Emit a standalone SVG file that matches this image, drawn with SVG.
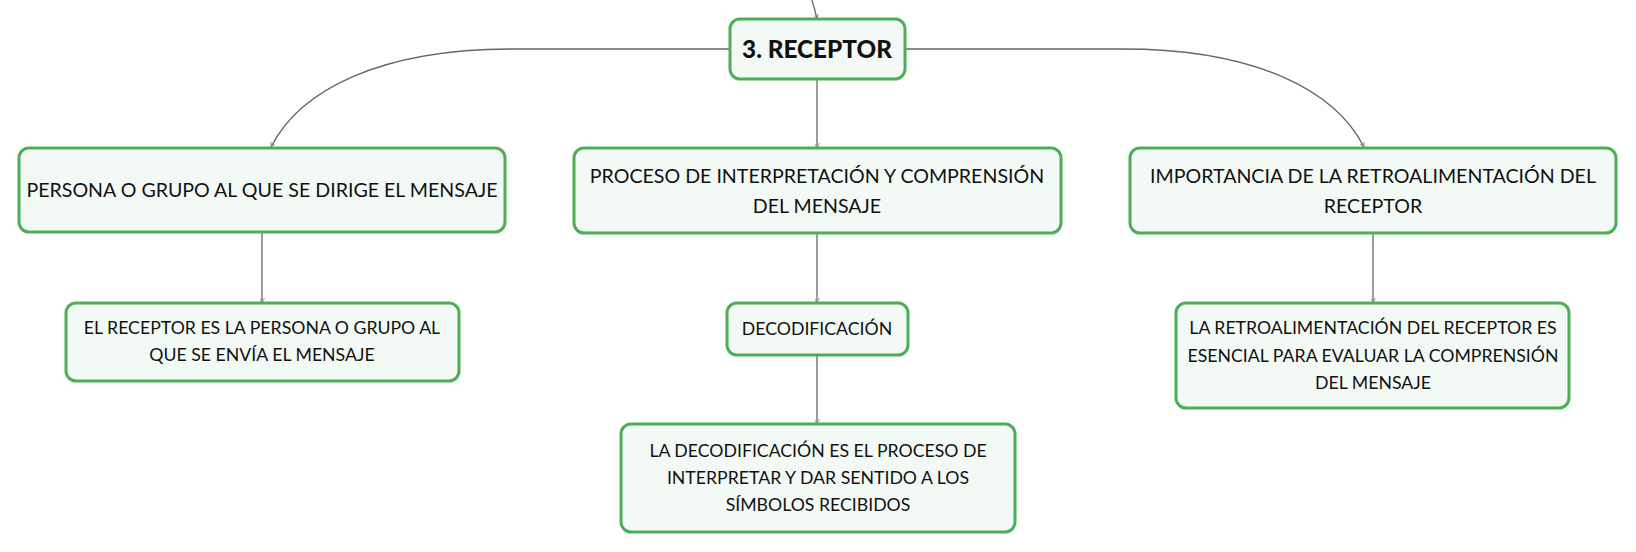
<svg xmlns="http://www.w3.org/2000/svg" width="1636" height="552" viewBox="0 0 1636 552">
<style>
.box{fill:#f3faf5;stroke:#4caf58;stroke-width:3}
.t{font-family:Lato,"Noto Sans","Liberation Sans",sans-serif;font-size:19.6px;fill:#111;text-anchor:middle;dominant-baseline:central}
.s{font-size:17.7px}
.root{font-weight:900;font-size:24.3px}
.c{fill:none;stroke:#666;stroke-width:1.3}
</style>
<defs>
<marker id="a" viewBox="0 0 6 6" refX="6" refY="3" markerWidth="5" markerHeight="5" orient="auto" markerUnits="userSpaceOnUse">
<path d="M0,0 L6,3 L0,6" fill="none" stroke="#888" stroke-width="1"/>
</marker>
</defs>
<rect width="1636" height="552" fill="#fff"/>
<g id="connectors">
<path class="c" d="M812,0 Q815,10 817,19" marker-end="url(#a)"/>
<path class="c" d="M730,49 L512,49 C380,49 300,90 271,147" marker-end="url(#a)"/>
<path class="c" d="M905,49 L1123,49 C1255,49 1335,90 1364,147" marker-end="url(#a)"/>
<path class="c" d="M817,79 V148" marker-end="url(#a)"/>
<path class="c" d="M262,232 V303" marker-end="url(#a)"/>
<path class="c" d="M817,233 V303" marker-end="url(#a)"/>
<path class="c" d="M817,355 V424" marker-end="url(#a)"/>
<path class="c" d="M1373,233 V303" marker-end="url(#a)"/>
</g>
<g id="root">
<rect class="box" x="730" y="19" width="175" height="60" rx="10"/>
<text class="t root" x="817" y="48">3. RECEPTOR</text>
</g>
<g id="n-persona">
<rect class="box" x="19" y="148" width="486" height="84" rx="10"/>
<text class="t" x="262" y="189">PERSONA O GRUPO AL QUE SE DIRIGE EL MENSAJE</text>
</g>
<g id="n-proceso">
<rect class="box" x="574" y="148" width="487" height="85" rx="10"/>
<text class="t" x="817" y="175">PROCESO DE INTERPRETACIÓN Y COMPRENSIÓN</text>
<text class="t" x="817" y="205">DEL MENSAJE</text>
</g>
<g id="n-importancia">
<rect class="box" x="1130" y="148" width="486" height="85" rx="10"/>
<text class="t" x="1373" y="175">IMPORTANCIA DE LA RETROALIMENTACIÓN DEL</text>
<text class="t" x="1373" y="205">RECEPTOR</text>
</g>
<g id="n-receptor-def">
<rect class="box" x="66" y="303" width="393" height="78" rx="10"/>
<text class="t s" x="262" y="327.5">EL RECEPTOR ES LA PERSONA O GRUPO AL</text>
<text class="t s" x="262" y="354">QUE SE ENVÍA EL MENSAJE</text>
</g>
<g id="n-decodificacion">
<rect class="box" x="727" y="303" width="181" height="52" rx="10"/>
<text class="t s" x="817" y="328">DECODIFICACIÓN</text>
</g>
<g id="n-decod-def">
<rect class="box" x="621" y="424" width="394" height="108" rx="10"/>
<text class="t s" x="818" y="450">LA DECODIFICACIÓN ES EL PROCESO DE</text>
<text class="t s" x="818" y="477">INTERPRETAR Y DAR SENTIDO A LOS</text>
<text class="t s" x="818" y="504">SÍMBOLOS RECIBIDOS</text>
</g>
<g id="n-retro-def">
<rect class="box" x="1176" y="303" width="393" height="105" rx="10"/>
<text class="t s" x="1373" y="327">LA RETROALIMENTACIÓN DEL RECEPTOR ES</text>
<text class="t s" x="1373" y="355">ESENCIAL PARA EVALUAR LA COMPRENSIÓN</text>
<text class="t s" x="1373" y="382">DEL MENSAJE</text>
</g>
</svg>
